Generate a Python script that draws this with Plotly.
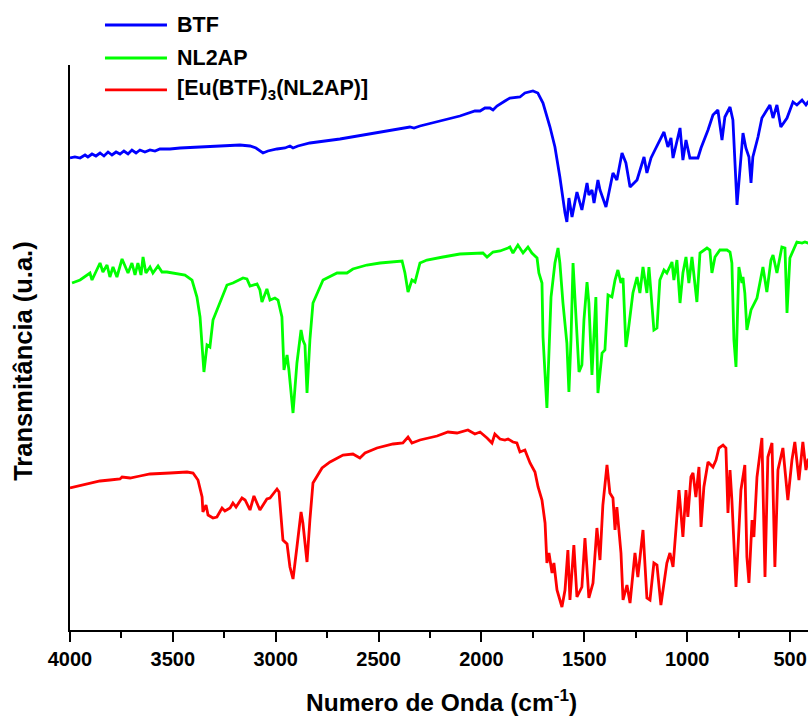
import plotly.graph_objects as go

# FTIR spectra, transmittance in arbitrary units (curves stacked vertically)
btf_wn = [4000, 3976, 3951, 3927, 3913, 3893, 3874, 3854, 3835, 3815,
          3796, 3776, 3757, 3738, 3718, 3699, 3679, 3660, 3636, 3611,
          3587, 3563, 3514, 3465, 3368, 3271, 3174, 3125, 3096, 3062,
          3038, 2994, 2955, 2931, 2916, 2892, 2834, 2688, 2542, 2396,
          2348, 2328, 2299, 2202, 2105, 2032, 2007, 1983, 1959, 1944,
          1925, 1886, 1862, 1813, 1789, 1750, 1726, 1701, 1667, 1643,
          1619, 1594, 1585, 1575, 1560, 1536, 1512, 1487, 1478, 1463,
          1453, 1434, 1424, 1395, 1361, 1342, 1317, 1298, 1278, 1244,
          1210, 1196, 1176, 1157, 1113, 1094, 1079, 1069, 1035, 1021,
          1006, 987, 948, 933, 899, 875, 851, 831, 817, 792,
          778, 758, 729, 715, 700, 690, 681, 656, 637, 613,
          598, 583, 564, 545, 515, 486, 467, 442, 423, 413,
          400]
btf_t = [472, 473, 472, 475, 473, 476, 474, 477, 474, 478,
         475, 478, 476, 479, 476, 480, 477, 480, 478, 480,
         479, 481, 481, 482, 483, 484, 485, 484, 482, 477,
         479, 481, 482, 484, 482, 484, 487, 491, 496, 501,
         503, 502, 504, 509, 514, 519, 519, 522, 522, 520,
         524, 529, 532, 533, 537, 539, 537, 527, 503, 483,
         453, 417, 408, 432, 413, 438, 420, 447, 435, 440,
         427, 450, 440, 423, 457, 450, 477, 467, 443, 450,
         473, 457, 472, 480, 498, 483, 492, 472, 502, 470,
         490, 472, 472, 482, 500, 515, 520, 490, 513, 523,
         510, 425, 497, 482, 473, 447, 473, 493, 512, 520,
         525, 512, 525, 503, 512, 528, 525, 530, 525, 528,
         528]

nl2ap_wn = [3990, 3951, 3903, 3893, 3854, 3840, 3820, 3806, 3791, 3772,
            3747, 3733, 3718, 3699, 3684, 3670, 3655, 3645, 3631, 3611,
            3597, 3572, 3553, 3529, 3499, 3441, 3407, 3383, 3368, 3354,
            3349, 3334, 3320, 3305, 3271, 3237, 3208, 3159, 3140, 3125,
            3091, 3077, 3067, 3043, 3028, 3004, 2989, 2970, 2960, 2945,
            2936, 2916, 2897, 2877, 2868, 2858, 2848, 2834, 2819, 2770,
            2702, 2654, 2625, 2557, 2493, 2386, 2372, 2357, 2338, 2323,
            2299, 2265, 2187, 2105, 1993, 1973, 1944, 1910, 1871, 1862,
            1847, 1823, 1798, 1774, 1755, 1730, 1721, 1706, 1701, 1682,
            1662, 1653, 1643, 1628, 1619, 1604, 1585, 1575, 1565, 1555,
            1541, 1526, 1512, 1502, 1487, 1478, 1463, 1444, 1434, 1414,
            1400, 1385, 1366, 1351, 1337, 1322, 1312, 1298, 1288, 1264,
            1244, 1230, 1215, 1196, 1186, 1162, 1147, 1133, 1113, 1099,
            1074, 1065, 1050, 1035, 1021, 1006, 992, 977, 953, 938,
            904, 890, 880, 865, 841, 807, 792, 783, 773, 763,
            749, 734, 729, 720, 710, 690, 661, 632, 613, 593,
            583, 564, 540, 525, 515, 501, 467, 442, 428, 413,
            400]
nl2ap_t = [347, 350, 357, 350, 367, 358, 365, 353, 363, 353,
           371, 365, 357, 367, 355, 367, 355, 373, 357, 363,
           357, 364, 358, 358, 357, 355, 350, 333, 313, 273,
           258, 285, 283, 310, 328, 345, 347, 352, 351, 344,
           346, 340, 328, 341, 330, 332, 330, 313, 260, 275,
           260, 217, 267, 300, 290, 285, 237, 290, 327, 350,
           357, 357, 361, 365, 367, 369, 357, 338, 350, 348,
           367, 370, 373, 376, 377, 373, 378, 379, 382, 383,
           377, 385, 377, 383, 377, 372, 357, 347, 293, 222,
           333, 347, 367, 382, 367, 327, 287, 238, 290, 367,
           320, 258, 265, 310, 348, 327, 255, 333, 237, 277,
           280, 335, 333, 350, 360, 347, 352, 283, 297, 337,
           353, 337, 363, 337, 363, 300, 302, 350, 360, 357,
           368, 350, 370, 327, 357, 373, 347, 373, 328, 377,
           382, 380, 357, 373, 380, 380, 378, 367, 290, 263,
           363, 347, 353, 337, 300, 320, 332, 363, 338, 370,
           375, 357, 383, 382, 317, 372, 388, 387, 388, 387,
           387]

complex_wn = [4000, 3903, 3854, 3806, 3757, 3747, 3708, 3660, 3611, 3514,
              3431, 3402, 3378, 3358, 3354, 3339, 3329, 3305, 3286, 3261,
              3247, 3222, 3208, 3193, 3164, 3149, 3125, 3106, 3077, 3043,
              3028, 2994, 2984, 2965, 2945, 2931, 2916, 2897, 2877, 2868,
              2848, 2834, 2819, 2775, 2736, 2673, 2625, 2591, 2566, 2508,
              2430, 2382, 2357, 2338, 2299, 2216, 2163, 2119, 2066, 2032,
              2007, 1973, 1949, 1935, 1910, 1886, 1871, 1847, 1828, 1813,
              1789, 1764, 1740, 1725, 1706, 1691, 1682, 1672, 1657, 1648,
              1633, 1609, 1594, 1580, 1570, 1551, 1536, 1512, 1497, 1478,
              1458, 1439, 1424, 1410, 1390, 1376, 1361, 1351, 1342, 1322,
              1312, 1293, 1278, 1254, 1240, 1215, 1196, 1181, 1162, 1147,
              1128, 1099, 1084, 1069, 1060, 1040, 1021, 1006, 997, 982,
              972, 958, 943, 933, 919, 899, 875, 860, 846, 826,
              812, 802, 792, 783, 763, 739, 720, 710, 700, 685,
              676, 661, 637, 622, 608, 588, 574, 559, 535, 520,
              511, 491, 477, 457, 438, 423, 413, 400]
complex_t = [142, 147, 149, 150, 151, 153, 152, 154, 156, 157,
             158, 157, 150, 133, 118, 125, 115, 112, 113, 122,
             119, 122, 127, 123, 132, 130, 120, 134, 120, 131,
             132, 141, 138, 90, 86, 63, 51, 83, 118, 107,
             68, 110, 147, 162, 168, 175, 176, 172, 177, 182,
             186, 187, 193, 187, 190, 194, 198, 197, 200, 196,
             198, 192, 187, 196, 191, 190, 191, 188, 187, 178,
             180, 167, 158, 143, 130, 107, 67, 77, 57, 67,
             40, 23, 40, 80, 30, 85, 33, 43, 92, 32,
             47, 102, 70, 125, 165, 137, 132, 100, 123, 77,
             30, 45, 27, 77, 53, 100, 32, 30, 67, 65,
             25, 67, 77, 63, 90, 140, 93, 140, 113, 153,
             157, 133, 163, 103, 143, 168, 163, 170, 182, 185,
             182, 117, 160, 130, 43, 140, 165, 73, 47, 110,
             93, 153, 192, 53, 173, 187, 63, 160, 182, 152,
             130, 170, 188, 150, 188, 160, 170, 170]

series = [
    ("BTF", btf_wn, btf_t, "#0000FF"),
    ("NL2AP", nl2ap_wn, nl2ap_t, "#00FF00"),
    ("[Eu(BTF)<sub>3</sub>(NL2AP)]", complex_wn, complex_t, "#FF0000"),
]

FONT = "Arial, 'Liberation Sans', sans-serif"
LINE_W = 2.8

fig = go.Figure()
for name, wn, t, color in series:
    assert len(wn) == len(t), name
    fig.add_trace(go.Scatter(x=wn, y=t, mode="lines", name=name,
                             line=dict(color=color, width=LINE_W),
                             showlegend=False))

# legend drawn as line samples with labels in the upper-left corner
legend_y = [1.0708, 1.0124, 0.9558]
for (name, _, _, color), ly in zip(series, legend_y):
    fig.add_shape(type="line", xref="paper", yref="paper",
                  x0=0.0474, x1=0.1314, y0=ly, y1=ly,
                  line=dict(color=color, width=LINE_W))
    fig.add_annotation(xref="paper", yref="paper", x=0.1423, y=ly,
                       xanchor="left", yanchor="middle", showarrow=False,
                       text=name, font=dict(family=FONT, size=21.5,
                                            color="black", weight="bold"))

fig.add_annotation(xref="paper", yref="paper", x=0.504, y=-0.125,
                   xanchor="center", yanchor="middle", showarrow=False,
                   text="Numero de Onda (cm<sup>-1</sup>)",
                   font=dict(family=FONT, size=24.5, color="black", weight="bold"))
fig.add_annotation(xref="paper", yref="paper", x=-0.064, y=0.476,
                   xanchor="center", yanchor="middle", showarrow=False,
                   textangle=-90, text="Transmitância (u.a.)",
                   font=dict(family=FONT, size=25.5, color="black", weight="bold"))

fig.update_layout(
    width=808, height=716,
    margin=dict(l=70, r=0, t=65, b=86),
    paper_bgcolor="white", plot_bgcolor="white",
    xaxis=dict(range=[4000, 413], showgrid=False, zeroline=False,
               showline=True, linecolor="black", linewidth=2,
               ticks="outside", ticklen=10, tickwidth=2, tickcolor="black",
               tick0=0, dtick=500,
               minor=dict(ticks="outside", ticklen=6, tickwidth=2,
                          tickcolor="black", dtick=250, showgrid=False),
               tickfont=dict(family=FONT, size=20, color="black", weight="bold")),
    yaxis=dict(range=[0, 565], showgrid=False, zeroline=False,
               showline=True, linecolor="black", linewidth=2,
               showticklabels=False, ticks=""),
)

fig.write_html("out.html")
